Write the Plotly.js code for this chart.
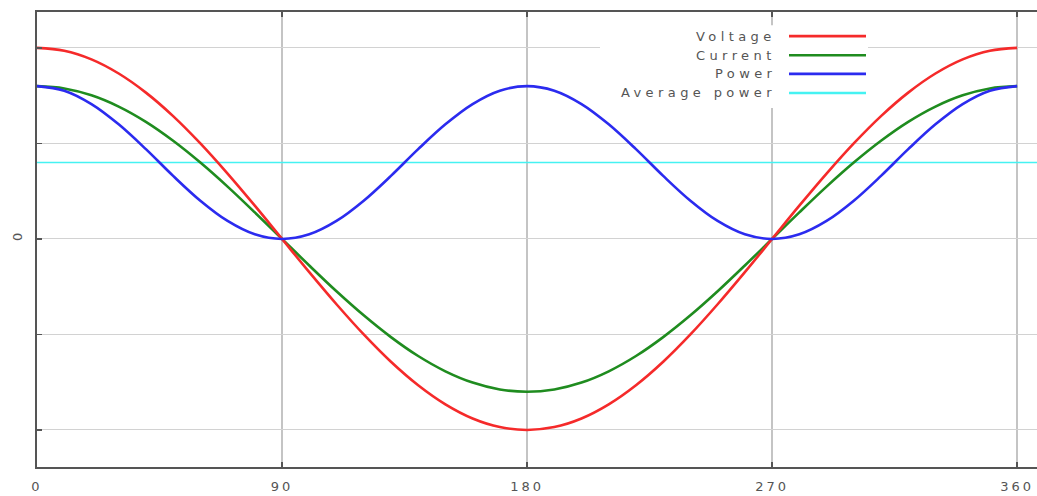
<!DOCTYPE html>
<html>
<head>
<meta charset="utf-8">
<script src="https://cdn.plot.ly/plotly-3.0.1.min.js"></script>
<style>
  html, body { margin: 0; padding: 0; background: #fff; }
  #chart { width: 1037px; height: 496px; }
  .xtick text { letter-spacing: 3px; }
  .annotation-text { letter-spacing: 4.4px; }
</style>
</head>
<body>
<div id="chart"></div>
<script>
// Phase angle in degrees
const angle = [0, 10, 20, 30, 40, 50, 60, 70, 80, 90, 100, 110, 120, 130, 140, 150, 160, 170, 180,
               190, 200, 210, 220, 230, 240, 250, 260, 270, 280, 290, 300, 310, 320, 330, 340, 350, 360];
// Values
const voltage = [1, 0.985, 0.94, 0.866, 0.766, 0.643, 0.5, 0.342, 0.174, 0,
                 -0.174, -0.342, -0.5, -0.643, -0.766, -0.866, -0.94, -0.985, -1,
                 -0.985, -0.94, -0.866, -0.766, -0.643, -0.5, -0.342, -0.174, 0,
                 0.174, 0.342, 0.5, 0.643, 0.766, 0.866, 0.94, 0.985, 1];
const current = [0.8, 0.788, 0.752, 0.693, 0.613, 0.514, 0.4, 0.274, 0.139, 0,
                 -0.139, -0.274, -0.4, -0.514, -0.613, -0.693, -0.752, -0.788, -0.8,
                 -0.788, -0.752, -0.693, -0.613, -0.514, -0.4, -0.274, -0.139, 0,
                 0.139, 0.274, 0.4, 0.514, 0.613, 0.693, 0.752, 0.788, 0.8];
const power = [0.8, 0.776, 0.706, 0.6, 0.47, 0.33, 0.2, 0.094, 0.024, 0,
               0.024, 0.094, 0.2, 0.33, 0.47, 0.6, 0.706, 0.776, 0.8,
               0.776, 0.706, 0.6, 0.47, 0.33, 0.2, 0.094, 0.024, 0,
               0.024, 0.094, 0.2, 0.33, 0.47, 0.6, 0.706, 0.776, 0.8];
const avgAngle = [0, 367.3];
const avgPower = [0.4, 0.4];

const seriesNames = ["Voltage", "Current", "Power", "Average power"];
const seriesColors = ["#f52a2a", "#1f8c1f", "#2b2bef", "#45f2f2"];

const xTickVals = [0, 90, 180, 270, 360];
const xTickText = ["0", "90", "180", "270", "360"];
const yTickVals = [-1, -0.5, 0, 0.5, 1];
const yTickText = ["", "", "0", "", ""];

const xs = [angle, angle, angle, avgAngle];
const ys = [voltage, current, power, avgPower];
const widths = [2.6, 2.6, 2.6, 1.6];

// draw average first so curves sit on top
const order = [3, 1, 0, 2];
const traces = order.map(i => ({
  x: xs[i], y: ys[i], type: "scatter", mode: "lines",
  name: seriesNames[i],
  line: { color: seriesColors[i], width: widths[i], shape: i === 3 ? "linear" : "spline", smoothing: 1 },
  hoverinfo: "skip", showlegend: false
}));

// manual legend (text on the left, sample line on the right)
const rowY = [0.947, 0.905, 0.864, 0.822];
const shapes = [{
  type: "rect", xref: "paper", yref: "paper",
  x0: 0.563, x1: 0.831, y0: 0.789, y1: 0.971,
  fillcolor: "#ffffff", line: { width: 0 }, layer: "above"
}];
const annotations = [];
seriesNames.forEach((n, i) => {
  shapes.push({
    type: "line", xref: "paper", yref: "paper",
    x0: 0.752, x1: 0.829, y0: rowY[i], y1: rowY[i],
    line: { color: seriesColors[i], width: 2.6 }, layer: "above"
  });
  annotations.push({
    xref: "paper", yref: "paper", x: 0.741, y: rowY[i],
    xanchor: "right", yanchor: "middle", showarrow: false,
    text: n, font: { family: "DejaVu Sans", size: 13, color: "#555" }
  });
});

const layout = {
  width: 1037, height: 496,
  margin: { l: 37, r: 0, t: 12, b: 29 },
  paper_bgcolor: "#fff", plot_bgcolor: "#fff",
  showlegend: false,
  font: { family: "DejaVu Sans", size: 12, color: "#555" },
  xaxis: {
    range: [0, 367.3], tickvals: xTickVals, ticktext: xTickText,
    showgrid: true, gridcolor: "#c4c4c4", gridwidth: 2,
    zeroline: false, showline: true, linecolor: "#555", linewidth: 2,
    mirror: "ticks", ticks: "inside", ticklen: 5, tickcolor: "#555", tickwidth: 1.5,
    ticklabelstandoff: 6,
    tickfont: { family: "DejaVu Sans", size: 13, color: "#555" }
  },
  yaxis: {
    range: [-1.194, 1.188], tickvals: yTickVals, ticktext: yTickText,
    showgrid: true, gridcolor: "#d2d2d2", gridwidth: 1,
    zeroline: false, showline: true, linecolor: "#555", linewidth: 2,
    mirror: false, ticks: "inside", ticklen: 5, tickcolor: "#555", tickwidth: 1.5,
    tickangle: -90, ticklabelstandoff: 8,
    tickfont: { family: "DejaVu Sans", size: 13, color: "#555" }
  },
  shapes: shapes,
  annotations: annotations
};

Plotly.newPlot("chart", traces, layout, { staticPlot: true, displayModeBar: false });
</script>
</body>
</html>
